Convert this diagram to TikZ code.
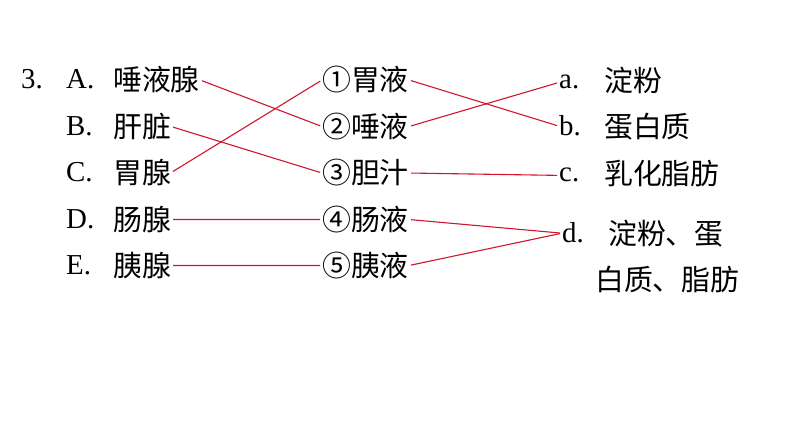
\documentclass[tikz,border=0pt]{standalone}
\usepackage{fontspec}
\setmainfont{Liberation Serif}
\newfontfamily\cjk{Noto Sans CJK SC}
\definecolor{linkred}{RGB}{210,20,45}
\begin{document}
\begin{tikzpicture}[x=1bp,y=-1bp,
  lat/.style={font=\fontsize{29}{32}\selectfont, inner sep=0pt, anchor=base west},
  zh/.style={font=\fontsize{29}{32}\selectfont\cjk, inner sep=0pt, anchor=base west},
  link/.style={draw=linkred, line width=1.1bp, shorten <=2bp, shorten >=2bp}]
\useasboundingbox (0,0) rectangle (794,447);
% left column
\node[lat] (n3) at (21,89) {3.};
\node[lat] (lA) at (66,89) {A.};
\node[lat] (lB) at (66,135.5) {B.};
\node[lat] (lC) at (66,181.5) {C.};
\node[lat] (lD) at (66,228.5) {D.};
\node[lat] (lE) at (66,274.5) {E.};
\node[zh] (A) at (113,91) {唾液腺};
\node[zh] (B) at (113,137.5) {肝脏};
\node[zh] (C) at (113,183.5) {胃腺};
\node[zh] (D) at (113,230.5) {肠腺};
\node[zh] (E) at (113,276.5) {胰腺};
% middle column
\node[zh] (m1) at (322,91) {①胃液};
\node[zh] (m2) at (322,137.5) {②唾液};
\node[zh] (m3) at (322,184) {③胆汁};
\node[zh] (m4) at (322,230.5) {④肠液};
\node[zh] (m5) at (322,276.5) {⑤胰液};
% right column
\node[lat] (ra) at (559,89) {a.};
\node[lat] (rb) at (559,136) {b.};
\node[lat] (rc) at (559,182) {c.};
\node[lat] (rd) at (562,243) {d.};
\node[zh] (ta) at (604,92) {淀粉};
\node[zh] (tb) at (604,138) {蛋白质};
\node[zh] (tc) at (604,185) {乳化脂肪};
\node[zh] (td1) at (608,245) {淀粉、蛋};
\node[zh] (td2) at (595,290.5) {白质、脂肪};
% links
\draw[link] (A.east) -- (m2.west);
\draw[link] (B.east) -- (m3.west);
\draw[link] (C.east) -- (m1.west);
\draw[link] (D.east) -- (m4.west);
\draw[link] (E.east) -- (m5.west);
\draw[link] (m1.east) -- (rb.west);
\draw[link] (m2.east) -- (ra.west);
\draw[link] (m3.east) -- (rc.west);
\draw[link] (m4.east) -- (rd.west);
\draw[link] (m5.east) -- (rd.west);
\end{tikzpicture}
\end{document}
